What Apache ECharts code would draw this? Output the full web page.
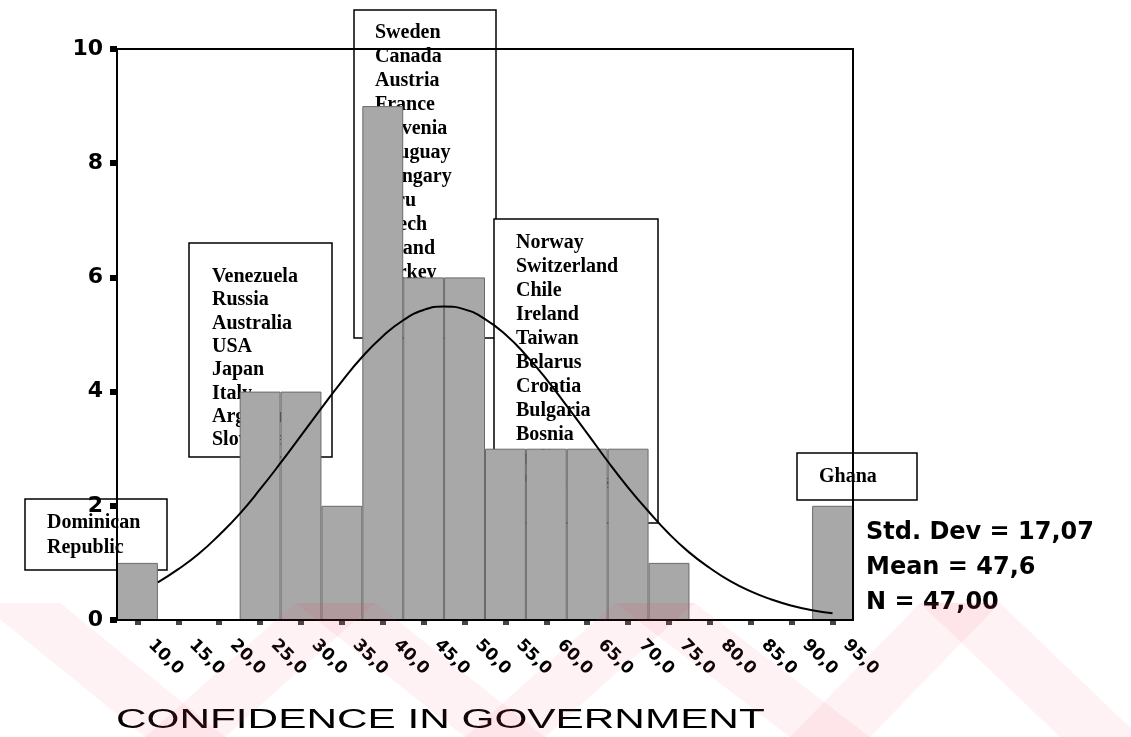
<!DOCTYPE html>
<html>
<head>
<meta charset="utf-8">
<script src="https://cdn.jsdelivr.net/npm/echarts@6/dist/echarts.min.js"></script>
<style>
html,body{margin:0;padding:0;background:#fff;}
#c{width:1131px;height:737px;}
</style>
</head>
<body>
<div id="c"></div>
<script>
// ---- data ----
const binLabels = ["10,0","15,0","20,0","25,0","30,0","35,0","40,0","45,0","50,0","55,0","60,0","65,0","70,0","75,0","80,0","85,0","90,0","95,0"];
const counts    = [1, 0, 0, 4, 4, 2, 9, 6, 6, 3, 3, 3, 3, 1, 0, 0, 0, 2];
const yTicks    = [0, 2, 4, 6, 8, 10];
// fitted normal curve
const curveX = [12.5,15,17.5,20,22.5,25,27.5,30,32.5,35,37.5,40,42.5,45,47.5,50,52.5,55,57.5,60,62.5,65,67.5,70,72.5,75,77.5,80,82.5,85,87.5,90,92.5,95];
const curveY = [0.66,0.89,1.16,1.49,1.86,2.29,2.75,3.23,3.71,4.18,4.61,4.97,5.25,5.43,5.49,5.44,5.27,5.00,4.64,4.22,3.75,3.27,2.78,2.32,1.90,1.51,1.18,0.91,0.68,0.50,0.36,0.25,0.17,0.12];
const boxDominican = ["Dominican","Republic"];
const boxVenezuela = ["Venezuela","Russia","Australia","USA","Japan","Italy","Argentina","Slovakia"];
const boxSweden    = ["Sweden","Canada","Austria","France","Slovenia","Uruguay","Hungary","Peru","Czech","Poland","Turkey"];
const boxNorway    = ["Norway","Switzerland","Chile","Ireland","Taiwan","Belarus","Croatia","Bulgaria","Bosnia","India","Philippines"];
const boxGhana     = ["Ghana"];
const statLines    = ["Std. Dev = 17,07","Mean = 47,6","N = 47,00"];
const axisTitle    = "CONFIDENCE IN GOVERNMENT";

// ---- layout / styles ----
const serif = 'bold 20px "Liberation Serif", "Times New Roman", serif';
function box(x, y, w, h, tx, ty, lh, lines) {
  return [
    {type:'rect', z:1, shape:{x:x, y:y, width:w, height:h},
     style:{fill:'#fff', stroke:'#000', lineWidth:1.5}},
    {type:'text', z:2, x:tx, y:ty - lh/2,
     style:{text:lines.join('\n'), font:serif, fill:'#000', lineHeight:lh,
            textAlign:'left', textVerticalAlign:'top'}}
  ];
}
// watermark zigzag bands (faint)
const wmPts = [[20,603],[185,737],[335,603],[505,737],[655,603],[830,737],[960,603],[1100,737]];
const wm = [];
for (let i = 0; i < wmPts.length - 1; i++) {
  const a = wmPts[i], b = wmPts[i+1];
  const top = a[1] < b[1] ? a : b, bot = a[1] < b[1] ? b : a;
  wm.push({type:'polygon', z:100, silent:true,
    shape:{points:[[top[0]-40,603],[top[0]+40,603],[bot[0]+40,737],[bot[0]-40,737]]},
    style:{fill:'rgba(238,70,95,0.07)'}});
}

const graphics = []
  .concat(box(25, 499, 142, 71, 47, 523, 25, boxDominican))
  .concat(box(189, 243, 143, 214, 212, 277, 23.3, boxVenezuela))
  .concat(box(354, 10, 142, 328, 375, 33, 24, boxSweden))
  .concat(box(494, 219, 164, 304, 516, 243, 24, boxNorway))
  .concat(box(797, 453, 120, 47, 819, 477, 24, boxGhana))
  .concat(statLines.map((t, i) => ({
    type:'text', z:30, x:866, y:533 + i*35,
    style:{text:t, font:'bold 24px "DejaVu Sans"', fill:'#000', textVerticalAlign:'middle'}
  })))
  .concat([{
    type:'text', z:30, x:116, y:721, scaleX:1.567,
    style:{text:axisTitle, font:'27px "Liberation Sans", Arial, sans-serif', fill:'#000', textVerticalAlign:'middle'}
  }])
  .concat(wm);

const chart = echarts.init(document.getElementById('c'), null, {renderer:'canvas'});
chart.setOption({
  animation:false,
  backgroundColor:'#fff',
  grid:{left:117, right:278, top:49, bottom:117, show:true, borderColor:'#000', borderWidth:2, z:20},
  xAxis:[{
    type:'category', data:binLabels, z:15,
    axisLine:{show:true, lineStyle:{color:'#000', width:2}},
    axisTick:{show:true, alignWithLabel:true, length:5, lineStyle:{color:'#444', width:6}},
    axisLabel:{interval:0, rotate:-45, margin:9, padding:[0,0,0,19],
               fontSize:17, fontWeight:'bold', fontFamily:'DejaVu Sans', color:'#000'},
    splitLine:{show:false}
  },{
    type:'value', min:7.5, max:97.5, show:false
  }],
  yAxis:{
    type:'value', min:yTicks[0], max:yTicks[yTicks.length-1], interval:2, z:15,
    axisLine:{show:true, lineStyle:{color:'#000', width:2}},
    axisTick:{show:true, length:7, lineStyle:{color:'#000', width:6}},
    axisLabel:{margin:14, fontSize:22, fontWeight:'bold', fontFamily:'DejaVu Sans', color:'#000'},
    splitLine:{show:false}
  },
  series:[{
    type:'bar', data:counts, barCategoryGap:'0%', z:5,
    itemStyle:{color:'#a8a8a8', borderColor:'#6a6a6a', borderWidth:1}
  },{
    type:'line', xAxisIndex:1, z:8, smooth:true, showSymbol:false,
    data:curveX.map((x, i) => [x, curveY[i]]),
    lineStyle:{color:'#000', width:2}
  }],
  graphic:graphics
});
</script>
</body>
</html>
